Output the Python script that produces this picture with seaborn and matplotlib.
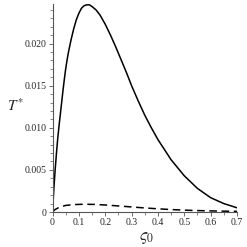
import seaborn as sns
import matplotlib.pyplot as plt
from matplotlib.ticker import MultipleLocator

# Curve values
solid_x = [0, 0.005, 0.01, 0.015, 0.02, 0.025, 0.03, 0.035, 0.04, 0.045, 0.05, 0.055, 0.06,
           0.07, 0.08, 0.09, 0.1, 0.11, 0.12, 0.13, 0.14, 0.15, 0.165, 0.18, 0.2, 0.22,
           0.24, 0.26, 0.28, 0.3, 0.325, 0.35, 0.375, 0.4, 0.45, 0.5, 0.55, 0.6, 0.65, 0.7]
solid_y = [0, 0.0027, 0.0050, 0.0070, 0.0088, 0.0103, 0.0117, 0.0131, 0.0145, 0.0158,
           0.0170, 0.0180, 0.0189, 0.0204, 0.0217, 0.0228, 0.0236, 0.0242, 0.0245, 0.0246,
           0.0246, 0.0244, 0.0240, 0.0234, 0.0223, 0.0210, 0.0196, 0.0181, 0.0166,
           0.0150, 0.0132, 0.0115, 0.0100, 0.0086, 0.0062, 0.0043, 0.0028, 0.0017,
           0.0010, 0.0005]
dashed_x = [0, 0.01, 0.025, 0.05, 0.08, 0.12, 0.16, 0.2, 0.25, 0.3, 0.35, 0.4, 0.45,
            0.5, 0.55, 0.6, 0.65, 0.7]
dashed_y = [0, 0.0003, 0.00055, 0.00078, 0.00088, 0.00092, 0.0009, 0.00083, 0.00072,
            0.0006, 0.00048, 0.00038, 0.00029, 0.00022, 0.00017, 0.00013, 0.0001, 0.00008]
x_ticks = [0, 0.1, 0.2, 0.3, 0.4, 0.5, 0.6, 0.7]
x_tick_labels = ["0", "0.1", "0.2", "0.3", "0.4", "0.5", "0.6", "0.7"]
y_ticks = [0, 0.005, 0.010, 0.015, 0.020]
y_tick_labels = ["0", "0.005", "0.010", "0.015", "0.020"]

sns.set_style("ticks")
plt.rcParams['font.family'] = ['Liberation Serif', 'DejaVu Serif']
plt.rcParams['mathtext.fontset'] = 'stix'

fig = plt.figure(figsize=(2.47, 2.47), dpi=100)
ax = fig.add_axes([0.2126, 0.1417, 0.7469, 0.8421])

sns.lineplot(x=solid_x, y=solid_y, color="black", linewidth=1.1, ax=ax)
sns.lineplot(x=dashed_x, y=dashed_y, color="black", linewidth=1.1, ax=ax,
             linestyle=(0, (5, 3)))

ax.set_xlim(0, 0.7)
ax.set_ylim(0, 0.0247)
sns.despine(ax=ax)
for s in ["left", "bottom"]:
    ax.spines[s].set_linewidth(0.8)
    ax.spines[s].set_color("#555555")

ax.set_xticks(x_ticks)
ax.set_xticklabels(x_tick_labels)
ax.set_yticks(y_ticks)
ax.set_yticklabels(y_tick_labels)
ax.xaxis.set_minor_locator(MultipleLocator(0.05))
ax.yaxis.set_minor_locator(MultipleLocator(0.001))
ax.tick_params(which="major", length=3, width=0.6, labelsize=7, pad=1.5, color="#555555")
ax.tick_params(which="minor", length=2, width=0.5, color="#555555")

ax.set_ylabel(r"$T^{*}$", rotation=0, fontsize=11)
ax.yaxis.set_label_coords(-0.2, 0.47)
ax.set_xlabel(r"$\varsigma_{\mathit{0}}$", fontsize=12)
ax.xaxis.set_label_coords(0.51, -0.085)

fig.savefig("out.png", dpi=100)
